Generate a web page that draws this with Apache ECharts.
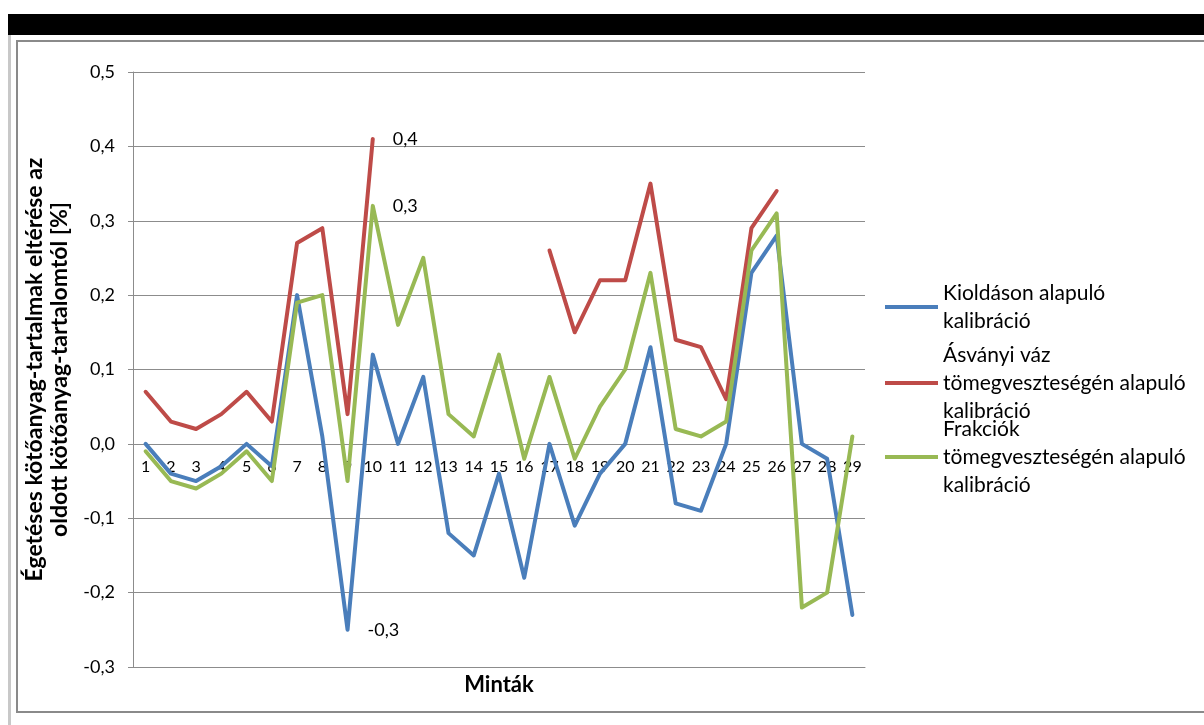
<!DOCTYPE html>
<html>
<head>
<meta charset="utf-8">
<script src="https://cdn.jsdelivr.net/npm/echarts@6/dist/echarts.min.js"></script>
<style>
  html, body { margin: 0; padding: 0; background: #fff; }
  #chart { width: 1204px; height: 725px; }
</style>
</head>
<body>
<div id="chart"></div>
<script>
// Minták (samples) on the category axis
const categories = ['1','2','3','4','5','6','7','8','9','10','11','12','13','14','15',
  '16','17','18','19','20','21','22','23','24','25','26','27','28','29'];

// Deviation of burn-off binder content from dissolved binder content [%]
const kioldason = [0, -0.04, -0.05, -0.03, 0, -0.03, 0.2, 0.01, -0.25, 0.12,
  0, 0.09, -0.12, -0.15, -0.04, -0.18, 0, -0.11, -0.04, 0,
  0.13, -0.08, -0.09, 0, 0.23, 0.28, 0, -0.02, -0.23];
const asvanyi = [0.07, 0.03, 0.02, 0.04, 0.07, 0.03, 0.27, 0.29, 0.04, 0.41,
  null, null, null, null, null, null, 0.26, 0.15, 0.22, 0.22,
  0.35, 0.14, 0.13, 0.06, 0.29, 0.34, null, null, null];
const frakciok = [-0.01, -0.05, -0.06, -0.04, -0.01, -0.05, 0.19, 0.2, -0.05, 0.32,
  0.16, 0.25, 0.04, 0.01, 0.12, -0.02, 0.09, -0.02, 0.05, 0.1,
  0.23, 0.02, 0.01, 0.03, 0.26, 0.31, -0.22, -0.2, 0.01];

// Which points carry a value label (index into the arrays)
const labelledKioldason = [8];
const labelledAsvanyi = [9];
const labelledFrakciok = [9];

// Y axis tick range
const yMin = -0.3, yMax = 0.5, yStep = 0.1;

const names = [
  'Kioldáson alapuló\nkalibráció',
  'Ásványi váz\ntömegveszteségén alapuló\nkalibráció',
  'Frakciók\ntömegveszteségén alapuló\nkalibráció'
];
const colors = ['#4A7EBB', '#BE4B48', '#98B954'];

const FONT = 'Lato, "Open Sans", sans-serif';
const fmt = v => v.toFixed(1).replace('.', ',');

// Plot box (pixels) and the offset that puts the category labels beside the 0 line
const plotTop = 72, plotBottom = 58, plotHeight = 725 - plotTop - plotBottom;
const zeroOffset = plotHeight * (0 - yMin) / (yMax - yMin);

function buildData(values, labelled) {
  return values.map((v, i) => {
    if (v === null || !labelled.includes(i)) return v;
    return {
      value: v,
      label: {
        show: true, position: 'right', distance: 20,
        formatter: p => fmt(p.value),
        fontFamily: FONT, fontSize: 18, color: '#000'
      }
    };
  });
}

function lineSeries(name, values, labelled, color) {
  return {
    name: name, type: 'line', data: buildData(values, labelled),
    symbol: 'circle', symbolSize: 0, showSymbol: true,
    connectNulls: false, smooth: false,
    lineStyle: { color: color, width: 4, cap: 'round', join: 'round' },
    itemStyle: { color: color },
    emphasis: { disabled: true }, animation: false
  };
}

const lineH = 28;
const iconH = 4;
function legendFor(idx, top, lines) {
  return {
    data: [{ name: names[idx], icon: 'rect' }], left: 885, top: top, orient: 'vertical',
    padding: 0, itemWidth: 53, itemHeight: iconH,
    selectedMode: false,
    textStyle: {
      fontFamily: FONT, fontSize: 21, color: '#000', lineHeight: lineH,
      padding: [(lines - 1) * lineH, 0, 0, 0]
    }
  };
}

const chart = echarts.init(document.getElementById('chart'), null, { renderer: 'canvas' });
chart.setOption({
  animation: false,
  backgroundColor: '#fff',
  color: colors,
  grid: { left: 133, right: 339, top: plotTop, bottom: plotBottom, containLabel: false, outerBoundsMode: 'none' },
  legend: [
    legendFor(0, 265, 2),
    legendFor(1, 313, 3),
    legendFor(2, 387, 3)
  ],
  xAxis: {
    type: 'category', data: categories, boundaryGap: true, position: 'bottom',
    axisLine: { onZero: false, lineStyle: { color: '#8c8c8c', width: 1 } },
    axisTick: { show: false },
    axisLabel: { fontFamily: FONT, fontSize: 16, color: '#000', margin: 15 - zeroOffset, interval: 0 },
    splitLine: { show: false },
    name: 'Minták', nameLocation: 'middle', nameGap: 7,
    nameTextStyle: { fontFamily: FONT, fontSize: 22, fontWeight: 'bold', color: '#000' }
  },
  yAxis: {
    type: 'value', min: yMin, max: yMax, interval: yStep,
    axisLine: { show: true, lineStyle: { color: '#8c8c8c', width: 1 } },
    axisTick: { show: true, length: 5, lineStyle: { color: '#8c8c8c' } },
    axisLabel: { fontFamily: FONT, fontSize: 18, color: '#000', margin: 18, formatter: v => fmt(v) },
    splitLine: { show: true, lineStyle: { color: '#8c8c8c', width: 1 } },
    name: 'Égetéses kötőanyag-tartalmak eltérése az\noldott kötőanyag-tartalomtól [%]',
    nameLocation: 'middle', nameGap: 60, nameRotate: 90,
    nameTextStyle: { fontFamily: FONT, fontSize: 23, fontWeight: 'bold', color: '#000', lineHeight: 25 }
  },
  graphic: [
    { type: 'rect', silent: true, shape: { x: 8, y: 14, width: 1196, height: 21 }, style: { fill: '#000' } },
    { type: 'rect', silent: true, shape: { x: 8, y: 35, width: 3, height: 690 }, style: { fill: '#c8c8c8' } },
    { type: 'rect', silent: true, shape: { x: 17, y: 41, width: 1200, height: 671 },
      style: { fill: 'none', stroke: '#8a8a8a', lineWidth: 2 } }
  ],
  series: [
    lineSeries(names[0], kioldason, labelledKioldason, colors[0]),
    lineSeries(names[1], asvanyi, labelledAsvanyi, colors[1]),
    lineSeries(names[2], frakciok, labelledFrakciok, colors[2])
  ]
});
</script>
</body>
</html>
